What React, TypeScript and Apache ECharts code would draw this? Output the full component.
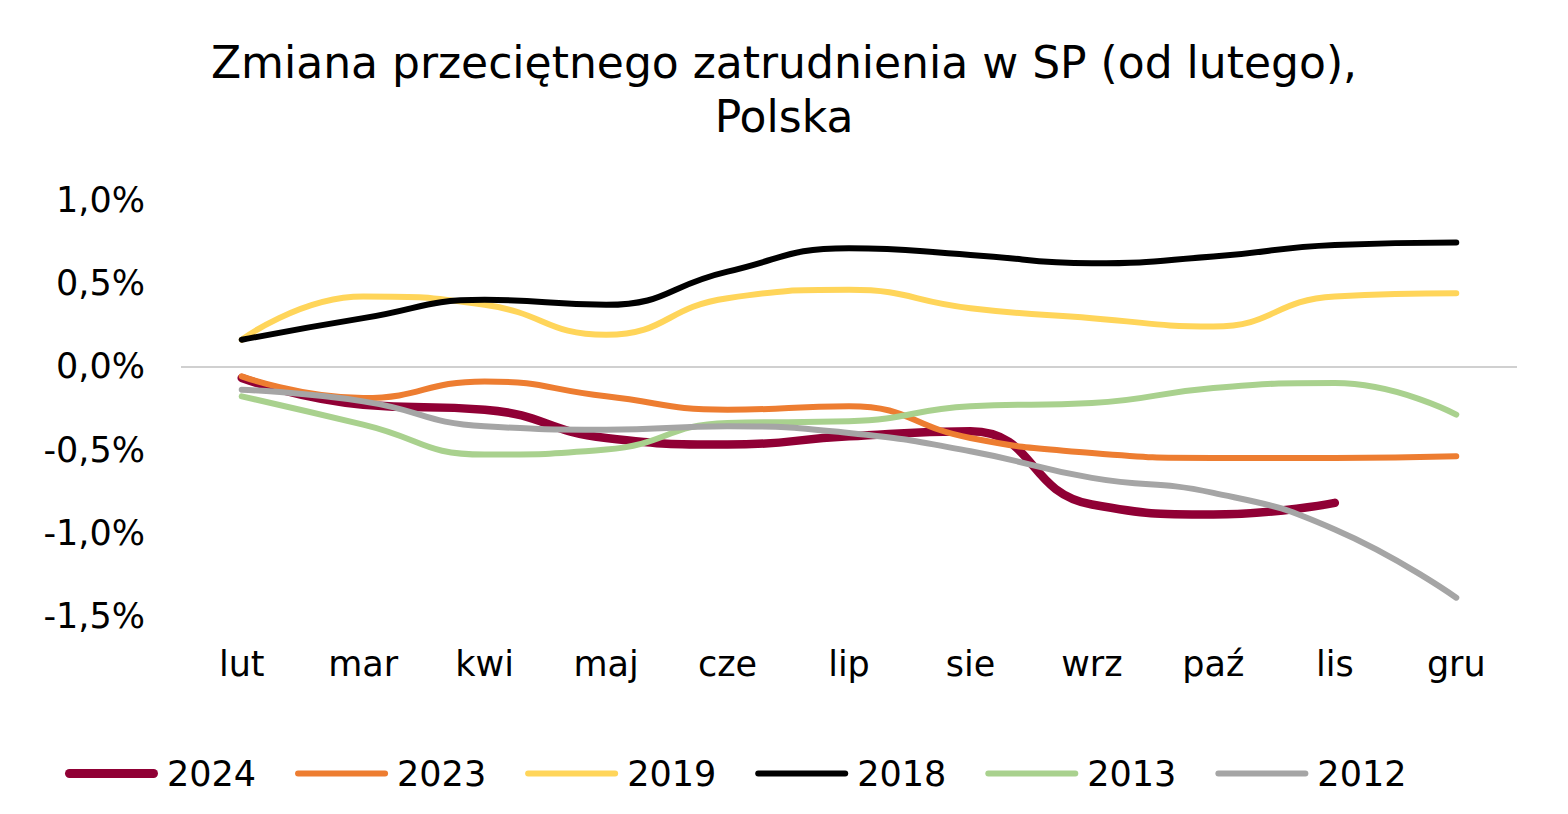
import React, { useEffect, useRef } from "react";
import * as echarts from "echarts";

const months = ["lut", "mar", "kwi", "maj", "cze", "lip", "sie", "wrz", "paź", "lis", "gru"];
const years = ["2024", "2023", "2019", "2018", "2013", "2012"];
const s2024 = [-0.07, -0.23, -0.26, -0.43, -0.47, -0.42, -0.39, -0.83, -0.89, -0.82];
const s2023 = [-0.06, -0.19, -0.09, -0.18, -0.26, -0.24, -0.43, -0.52, -0.55, -0.55, -0.54];
const s2019 = [0.16, 0.42, 0.37, 0.19, 0.41, 0.46, 0.35, 0.29, 0.24, 0.42, 0.44];
const s2018 = [0.16, 0.29, 0.4, 0.37, 0.57, 0.71, 0.67, 0.62, 0.66, 0.73, 0.745];
const s2013 = [-0.18, -0.35, -0.53, -0.5, -0.34, -0.33, -0.24, -0.22, -0.13, -0.1, -0.29];
const s2012 = [-0.14, -0.21, -0.36, -0.38, -0.36, -0.4, -0.51, -0.67, -0.76, -0.98, -1.39];
const yTicks = [-1.5, -1.0, -0.5, 0, 0.5, 1.0];

const seriesData = [s2024, s2023, s2019, s2018, s2013, s2012];
const colors = ["#900035", "#ED7D31", "#FFD55A", "#000000", "#A9D18E", "#A5A5A5"];
const widths = [8.5, 6, 6, 6, 6, 6];

const FONT = "'DejaVu Sans', Verdana, sans-serif";

const thickIcon =
  "path://M0,0 M93,14 M4.5,2.5 L88.5,2.5 A4.5,4.5 0 0 1 88.5,11.5 L4.5,11.5 A4.5,4.5 0 0 1 4.5,2.5 Z";
const thinIcon =
  "path://M0,0 M93,14 M3,4 L90,4 A3,3 0 0 1 90,10 L3,10 A3,3 0 0 1 3,4 Z";

export default function App() {
  const ref = useRef<HTMLDivElement>(null);
  useEffect(() => {
    document.body.style.margin = "0";
    const chart = echarts.init(ref.current!, undefined, { renderer: "svg" });
    chart.setOption({
      animation: false,
      backgroundColor: "#ffffff",
      title: {
        text: "Zmiana przeciętnego zatrudnienia w SP (od lutego),\nPolska",
        left: "center",
        top: 30,
        textStyle: {
          fontFamily: FONT,
          fontSize: 44,
          fontWeight: "normal",
          color: "#000",
          lineHeight: 54,
        },
      },
      legend: {
        left: 60,
        top: 751,
        itemWidth: 93,
        itemHeight: 14,
        itemGap: 39,
        data: years.map((y, i) => ({
          name: y,
          icon: i === 0 ? thickIcon : thinIcon,
          itemStyle: { color: colors[i], borderWidth: 0 },
        })),
        textStyle: { fontFamily: FONT, fontSize: 35, color: "#000", padding: [0, 0, 0, 4] },
      },
      grid: { left: 181, right: 51, top: 200, bottom: 198 },
      xAxis: {
        type: "category",
        data: months,
        boundaryGap: true,
        axisLine: { show: false },
        axisTick: { show: false },
        axisLabel: {
          margin: 30,
          fontFamily: FONT,
          fontSize: 35,
          color: "#000",
        },
      },
      yAxis: {
        type: "value",
        min: yTicks[0],
        max: yTicks[yTicks.length - 1],
        interval: 0.5,
        splitLine: { show: false },
        axisLine: { show: false },
        axisTick: { show: false },
        axisLabel: {
          margin: 36,
          fontFamily: FONT,
          fontSize: 35,
          color: "#000",
          formatter: (v: number) => v.toFixed(1).replace(".", ",") + "%",
        },
      },
      series: years.map((y, i) => ({
        name: y,
        type: "line",
        data: seriesData[i],
        smooth: 0.5,
        symbol: "none",
        color: colors[i],
        lineStyle: { color: colors[i], width: widths[i], cap: "round", join: "round" },
        ...(i === 0
          ? {
              markLine: {
                silent: true,
                symbol: "none",
                label: { show: false },
                lineStyle: { color: "#C0C0C0", width: 1.5, type: "solid" },
                data: [{ yAxis: 0 }],
                z: 1,
              },
            }
          : {}),
      })),
    });
    return () => chart.dispose();
  }, []);
  return <div ref={ref} style={{ width: 1568, height: 814 }} />;
}
